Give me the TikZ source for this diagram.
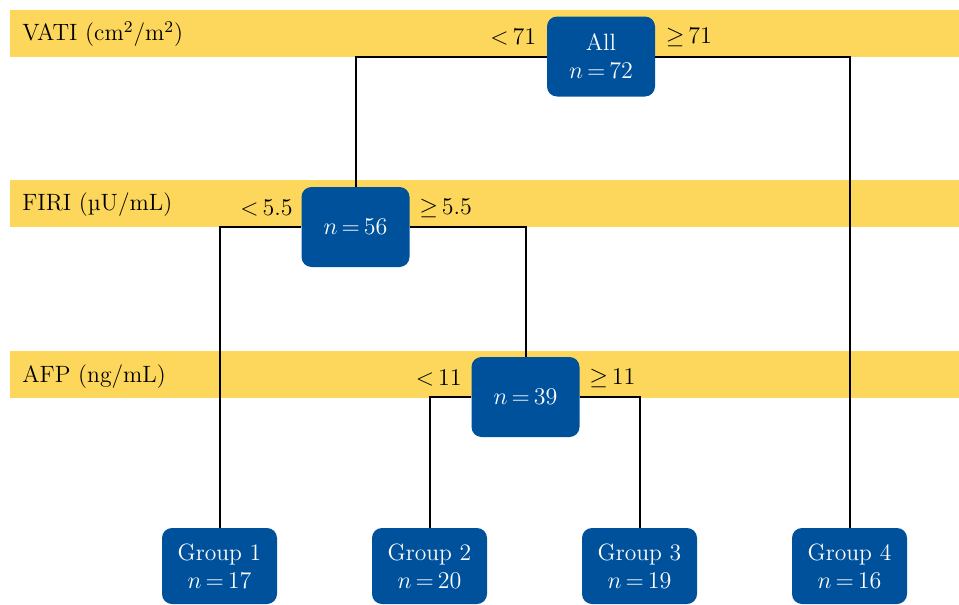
\documentclass[tikz,border=0pt]{standalone}
\usepackage{tikz}
\usepackage{xcolor}
\usepackage{amsmath}
\usepackage{amssymb}
\usetikzlibrary{shapes, arrows, calc, positioning}
\definecolor{treeblue}{rgb}{0, 0.318, 0.608}
\definecolor{bandyellow}{rgb}{0.992, 0.843, 0.361}
\newcommand{\treefont}{\fontsize{11.8}{14}\selectfont\thickmuskip=3mu plus 1mu}
\tikzset{vertex/.style={rounded corners=5pt, fill=treeblue, text=white, inner sep=0pt, align=center, font=\treefont}}
\tikzset{splitvertex/.style={vertex, minimum width=54pt, minimum height=40pt}}
\tikzset{groupvertex/.style={vertex, minimum width=57.5pt, minimum height=38pt}}
\tikzset{band/.style={fill=bandyellow}}
\tikzset{bandlabel/.style={anchor=west, inner sep=0pt, font=\treefont}}
\tikzset{cutlabel/.style={inner sep=0pt, font=\treefont}}
\tikzset{edge/.style={color=black, line width=1pt}}

\begin{document}
\begin{tikzpicture}[x=0.5pt, y=-0.5pt]
        \useasboundingbox (0,0) rectangle (959,605);
        \begin{scope}
            \fill[band] (10,10) rectangle (959,57);
            \fill[band] (10,180) rectangle (959,227);
            \fill[band] (10,351) rectangle (959,398);

            \node[bandlabel] (Lvati) at (22,34) {VATI (cm\textsuperscript{2}/m\textsuperscript{2})};
            \node[bandlabel] (Lfiri) at (22,205) {FIRI (µU/mL)};
            \node[bandlabel] (Lafp) at (22,377) {AFP (ng/mL)};

            \node[splitvertex] (Nall) at (601,56.5) {All\\$n = 72$};
            \node[splitvertex] (N56) at (355.5,227) {$n = 56$};
            \node[splitvertex] (N39) at (525.5,397) {$n = 39$};

            \node[groupvertex] (G1) at (219.5,566) {Group 1\\$n = 17$};
            \node[groupvertex] (G2) at (429.5,566) {Group 2\\$n = 20$};
            \node[groupvertex] (G3) at (639.5,566) {Group 3\\$n = 19$};
            \node[groupvertex] (G4) at (849.5,566) {Group 4\\$n = 16$};

            \node[cutlabel, left=5pt of Nall.west, yshift=9.75pt] (Call1) {$< 71$};
            \node[cutlabel, right=5pt of Nall.east, yshift=9.75pt] (Call2) {$\geq 71$};
            \node[cutlabel, left=4pt of N56.west, yshift=9.5pt] (C561) {$< 5.5$};
            \node[cutlabel, right=4.5pt of N56.east, yshift=9.5pt] (C562) {$\geq 5.5$};
            \node[cutlabel, left=4.5pt of N39.west, yshift=9.5pt] (C391) {$< 11$};
            \node[cutlabel, right=4.5pt of N39.east, yshift=9.5pt] (C392) {$\geq 11$};

            \draw [edge] (Nall) -| (N56);
            \draw [edge] (Nall) -| (G4);
            \draw [edge] (N56) -| (G1);
            \draw [edge] (N56) -| (N39);
            \draw [edge] (N39) -| (G2);
            \draw [edge] (N39) -| (G3);
        \end{scope}
    \end{tikzpicture}
\end{document}
